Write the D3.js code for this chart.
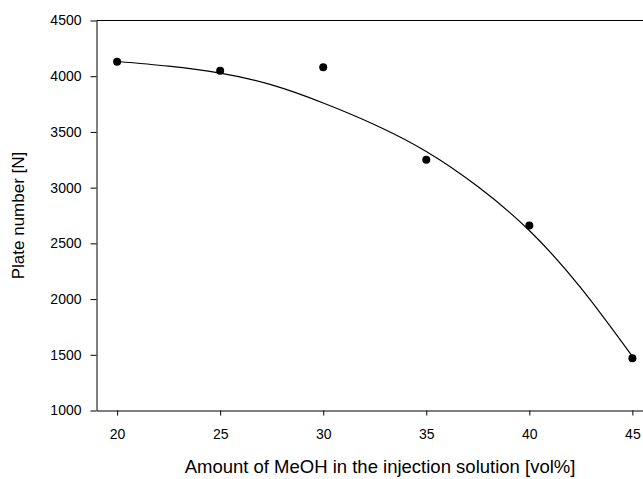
<!DOCTYPE html>
<html>
<head>
<meta charset="utf-8">
<script src="https://cdn.jsdelivr.net/npm/d3@7"></script>
<style>
  html, body { margin: 0; padding: 0; background: #fff; }
  svg { display: block; }
  text { font-family: "Liberation Sans", Arial, sans-serif; fill: #000; }
</style>
</head>
<body>
<svg id="chart" width="643" height="479"></svg>
<script>
// Measured data points
const meohPercent = [20, 25, 30, 35, 40, 45];
const plateNumber = [4130, 4050, 4080, 3250, 2660, 1470];

// Fitted curve
const fitX = [20, 22.5, 25, 27.5, 30, 32.5, 35, 37.5, 40, 42.5, 45];
const fitY = [4132, 4090, 4027, 3922, 3760, 3565, 3325, 3010, 2615, 2100, 1485];

const xTicks = [20, 25, 30, 35, 40, 45];
const yTicks = [1000, 1500, 2000, 2500, 3000, 3500, 4000, 4500];

const xTitle = "Amount of MeOH in the injection solution [vol%]";
const yTitle = "Plate number [N]";

const svg = d3.select("#chart");
const mLeft = 96.5, mTop = 20.5, mBottom = 410.5, mRight = 653;

const x = d3.scaleLinear().domain([19, 46]).range([mLeft, mRight]);
const y = d3.scaleLinear().domain([1000, 4500]).range([mBottom, mTop]);

// frame lines
svg.append("line")
  .attr("x1", mLeft).attr("x2", mRight)
  .attr("y1", mTop).attr("y2", mTop)
  .attr("stroke", "#000").attr("stroke-width", 1);
svg.append("line")
  .attr("x1", mRight).attr("x2", mRight)
  .attr("y1", mTop).attr("y2", mBottom)
  .attr("stroke", "#000").attr("stroke-width", 1);

const xAxis = svg.append("g")
  .attr("transform", `translate(0,${mBottom})`)
  .call(d3.axisBottom(x).tickValues(xTicks).tickFormat(d3.format("d"))
    .tickSize(5).tickPadding(14).tickSizeOuter(0));
const yAxis = svg.append("g")
  .attr("transform", `translate(${mLeft},0)`)
  .call(d3.axisLeft(y).tickValues(yTicks).tickFormat(d3.format("d"))
    .tickSize(6).tickPadding(9).tickSizeOuter(0));

[xAxis, yAxis].forEach(g => {
  g.selectAll("path, line").attr("stroke", "#000").attr("stroke-width", 1);
  g.selectAll("text").style("font-size", "14px").style("font-family", '"Liberation Sans", Arial, sans-serif').attr("fill", "#000");
});

// fit curve
const fitData = fitX.map((v, i) => [v, fitY[i]]);
svg.append("path")
  .datum(fitData)
  .attr("fill", "none")
  .attr("stroke", "#000")
  .attr("stroke-width", 1.2)
  .attr("d", d3.line().x(d => x(d[0])).y(d => y(d[1])).curve(d3.curveNatural));

// points
svg.append("g").selectAll("circle")
  .data(meohPercent.map((v, i) => [v, plateNumber[i]]))
  .join("circle")
  .attr("cx", d => x(d[0]))
  .attr("cy", d => y(d[1]))
  .attr("r", 4)
  .attr("fill", "#000");

svg.append("text")
  .attr("x", 380).attr("y", 473)
  .attr("text-anchor", "middle")
  .style("font-size", "18.5px")
  .text(xTitle);

svg.append("text")
  .attr("transform", `translate(24,${(mTop + mBottom) / 2}) rotate(-90)`)
  .attr("text-anchor", "middle")
  .style("font-size", "17px")
  .text(yTitle);
</script>
</body>
</html>
